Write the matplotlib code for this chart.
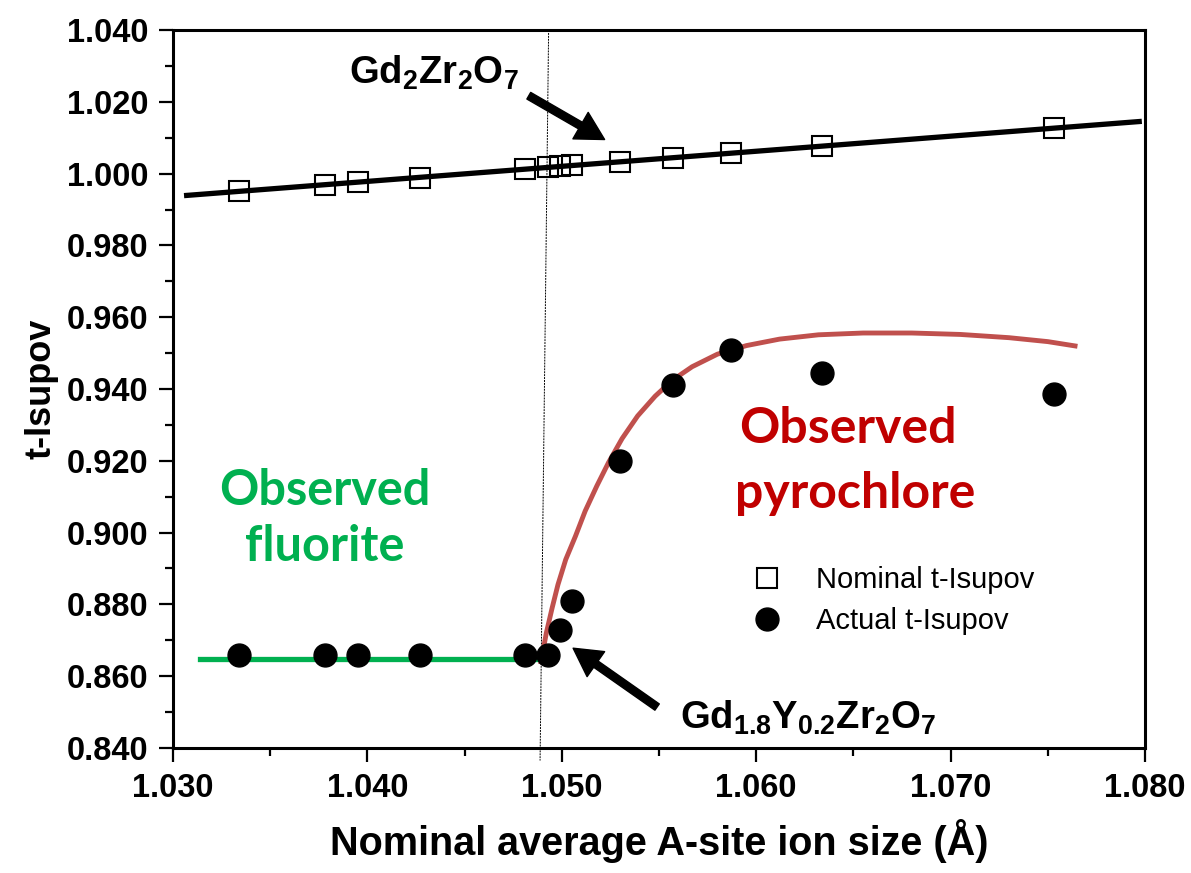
import numpy as np
import matplotlib.pyplot as plt

plt.rcParams['font.family'] = ['Liberation Sans', 'DejaVu Sans']
plt.rcParams['mathtext.fontset'] = 'custom'
plt.rcParams['mathtext.rm'] = 'Liberation Sans'
plt.rcParams['mathtext.bf'] = 'Liberation Sans:bold'

# data
ion_size = [1.0334, 1.0378, 1.0395, 1.0427, 1.0481, 1.0493, 1.0499, 1.0505,
            1.0530, 1.0557, 1.0587, 1.0634, 1.0753]
t_nominal = [0.9952, 0.9968, 0.9977, 0.9988, 1.0013, 1.0018, 1.0020, 1.0023,
             1.0032, 1.0043, 1.0057, 1.0077, 1.0127]
t_actual = [0.866, 0.866, 0.866, 0.866, 0.866, 0.866, 0.873, 0.881,
            0.920, 0.941, 0.951, 0.9445, 0.9385]

# trend lines drawn in the figure
fluorite_x = [1.0314, 1.0489]
fluorite_y = [0.8648, 0.8648]
pyro_x = [1.04893, 1.0492, 1.0495, 1.0498, 1.0502, 1.0507, 1.0512, 1.0518, 1.0524,
          1.0531, 1.0539, 1.0548, 1.0557, 1.0567, 1.0580, 1.0595, 1.0612, 1.0632,
          1.0655, 1.0680, 1.0705, 1.0730, 1.0750, 1.0764]
pyro_y = [0.8640, 0.8720, 0.8790, 0.8855, 0.8925, 0.8990, 0.9060, 0.9130, 0.9195,
          0.9262, 0.9325, 0.9380, 0.9425, 0.9462, 0.9497, 0.9521, 0.9539, 0.9551,
          0.9556, 0.9556, 0.9552, 0.9543, 0.9532, 0.9520]
boundary_x = [1.04932, 1.04888]
boundary_y = [1.040, 0.8365]

fig = plt.figure(figsize=(11.91, 8.73), dpi=100)
ax = fig.add_axes([0.1453, 0.1432, 0.8161, 0.8224])

# nominal trend line (linear fit)
coef = np.polyfit(ion_size, t_nominal, 1)
xfit = np.array([1.0307, 1.0797])
ax.plot(xfit, np.polyval(coef, xfit), color='black', lw=3.8, zorder=2)

ax.plot(fluorite_x, fluorite_y, color='#00B050', lw=3.8, zorder=2)
ax.plot(pyro_x, pyro_y, color='#C0504D', lw=3.5, zorder=2, solid_joinstyle='round')
ax.plot(boundary_x, boundary_y, color='black', lw=0.7, ls=(0, (2, 1)), zorder=1, clip_on=False)

ax.plot(ion_size, t_nominal, 's', ms=14, mfc='none', mec='black', mew=1.5,
        ls='none', zorder=3, label='Nominal t-Isupov')
ax.plot(ion_size, t_actual, 'o', ms=16.5, color='black', ls='none', zorder=3,
        label='Actual t-Isupov')

ax.set_xlim(1.030, 1.080)
ax.set_ylim(0.840, 1.040)
ax.set_xticks(np.arange(1.030, 1.0801, 0.010))
ax.set_xticks(np.arange(1.035, 1.080, 0.010), minor=True)
ax.set_yticks(np.arange(0.840, 1.0401, 0.020))
ax.set_yticks(np.arange(0.850, 1.040, 0.020), minor=True)
ax.set_xticklabels([f'{v:.3f}' for v in np.arange(1.030, 1.0801, 0.010)])
ax.set_yticklabels([f'{v:.3f}' for v in np.arange(0.840, 1.0401, 0.020)])
ax.tick_params(which='major', direction='out', length=10, width=1.6, labelsize=23.5,
               pad=8, top=False, right=False)
ax.tick_params(which='minor', direction='out', length=6, width=1.6, top=False, right=False)
for lbl in ax.get_xticklabels() + ax.get_yticklabels():
    lbl.set_fontweight('bold')
for sp in ax.spines.values():
    sp.set_linewidth(2.2)

ax.set_xlabel('Nominal average A-site ion size (Å)', fontsize=28.5, fontweight='bold', labelpad=11)
ax.set_ylabel('t-Isupov', fontsize=26, fontweight='bold', labelpad=6)

# annotations
ax.annotate('', xy=(1.0522, 1.0095), xytext=(1.0483, 1.0217),
            arrowprops=dict(width=5.5, headwidth=22, headlength=20, color='black'))
ax.text(1.0434, 1.0250, r'$\mathbf{Gd_2Zr_2O_7}$', fontsize=27.5, ha='center', va='baseline')

ax.annotate('', xy=(1.05058, 0.8678), xytext=(1.0549, 0.8514),
            arrowprops=dict(width=5.5, headwidth=22, headlength=20, color='black'))
ax.text(1.0561, 0.8453, r'$\mathbf{Gd_{1.8}Y_{0.2}Zr_2O_7}$', fontsize=27.5, ha='left', va='baseline')

ax.text(1.0378, 0.9040, 'Observed\nfluorite', color='#00B050', fontsize=35, fontweight='bold',
        family='Lato', ha='center', va='center', linespacing=1.3)
ax.text(1.0647, 0.9290, 'Observed', color='#C00000', fontsize=36, fontweight='bold',
        family='Lato', ha='center', va='center')
ax.text(1.0651, 0.9110, 'pyrochlore', color='#C00000', fontsize=36, fontweight='bold',
        family='Lato', ha='center', va='center')

ax.legend(loc='upper left', bbox_to_anchor=(0.5957, 0.2535), frameon=False, fontsize=21,
          handlelength=1.0, handletextpad=1.2, labelspacing=0.45, borderpad=0, borderaxespad=0)

fig.savefig('out.png', dpi=100)
